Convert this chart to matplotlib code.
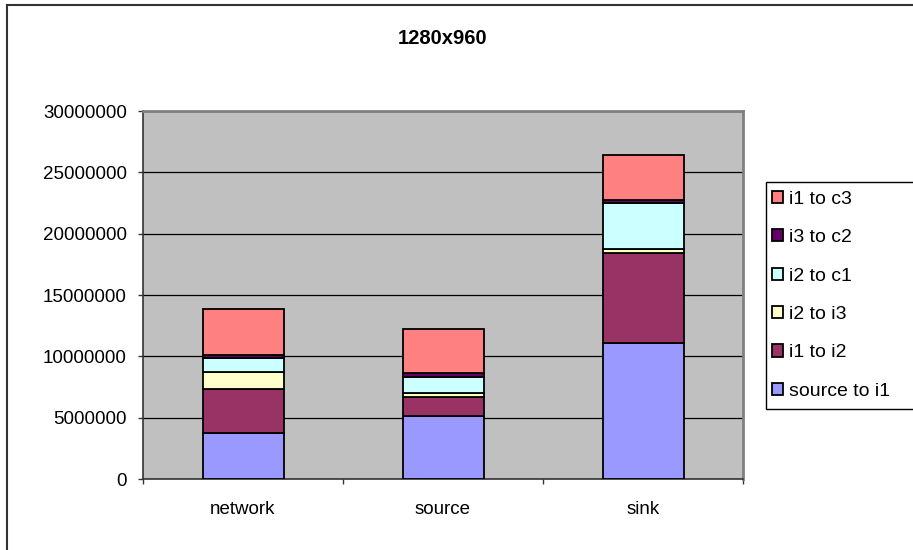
import matplotlib
matplotlib.use("Agg")
import matplotlib.pyplot as plt
from matplotlib.lines import Line2D
from matplotlib.patches import Rectangle
import numpy as np

plt.rcParams['font.family'] = ['Liberation Sans', 'DejaVu Sans']

# categories and stacked segments (bottom to top)
categories = ["network", "source", "sink"]
series = ["source to i1", "i1 to i2", "i2 to i3", "i2 to c1", "i3 to c2", "i1 to c3"]
source_to_i1 = [3730000, 5170000, 11080000]
i1_to_i2 = [3620000, 1530000, 7360000]
i2_to_i3 = [1340000, 300000, 320000]
i2_to_c1 = [1170000, 1310000, 3730000]
i3_to_c2 = [270000, 320000, 220000]
i1_to_c3 = [3730000, 3600000, 3700000]
colors = ["#9999FF", "#993366", "#FFFFCC", "#CCFFFF", "#660066", "#FF8080"]

values = [source_to_i1, i1_to_i2, i2_to_i3, i2_to_c1, i3_to_c2, i1_to_c3]

W, H = 913, 550
fig = plt.figure(figsize=(W / 100, H / 100), dpi=100)
ax = fig.add_axes([143 / W, (H - 479) / H, 600 / W, 368 / H])
ax.set_facecolor("#C0C0C0")

x = np.arange(len(categories))
bottom = np.zeros(len(categories))
bars = []
for name, vals, c in zip(series, values, colors):
    b = ax.bar(x, vals, 0.405, bottom=bottom, color=c, edgecolor="black",
               linewidth=1.3, label=name, zorder=3)
    bars.append(b)
    bottom += np.array(vals)

ax.set_xlim(-0.5, 2.5)
ax.set_ylim(0, 30000000)
ax.set_yticks(np.arange(0, 30000001, 5000000))
ax.ticklabel_format(axis="y", style="plain", useOffset=False)
ax.yaxis.grid(True, color="black", linewidth=0.9, zorder=1)
ax.set_axisbelow(True)
ax.tick_params(axis="y", direction="out", length=3.6, width=1, pad=8,
               labelsize=13.5, color="#333333")

# category separators on the x axis, labels centred in each slot
ax.set_xticks([-0.5, 0.5, 1.5, 2.5])
ax.set_xticklabels([])
ax.set_xticks(x, minor=True)
ax.set_xticklabels(categories, minor=True)
ax.tick_params(axis="x", which="major", direction="out", length=3.6, width=1,
               color="#333333")
ax.tick_params(axis="x", which="minor", length=0, pad=16, labelsize=13.5)

for s in ["top", "right"]:
    ax.spines[s].set_color("#808080")
    ax.spines[s].set_linewidth(2)
for s in ["left", "bottom"]:
    ax.spines[s].set_color("#333333")
    ax.spines[s].set_linewidth(1.2)

fig.text(443 / W, 1 - 38 / H, "1280x960", ha="center", va="center",
         fontsize=14.5, fontweight="bold")

# legend box runs off the right edge
fig.add_artist(Rectangle((766 / W, 1 - 409 / H), 160 / W, 227 / H,
                         facecolor="white", edgecolor="black", linewidth=1,
                         transform=fig.transFigure, clip_on=False))
leg = fig.legend(bars[::-1], series[::-1], loc="upper left",
                 bbox_to_anchor=(761 / W, 1 - 180 / H), fontsize=14,
                 frameon=False, handlelength=0.6, handleheight=0.6,
                 handletextpad=0.3, labelspacing=1.1,
                 borderpad=0.55, borderaxespad=0)

# outer chart border (top and left edges visible)
fig.add_artist(Line2D([7 / W, 1], [1 - 5 / H, 1 - 5 / H], color="#333333",
                      linewidth=1.5, transform=fig.transFigure))
fig.add_artist(Line2D([7 / W, 7 / W], [0, 1 - 5 / H], color="#333333",
                      linewidth=1.5, transform=fig.transFigure))

fig.savefig("out.png", dpi=100)
